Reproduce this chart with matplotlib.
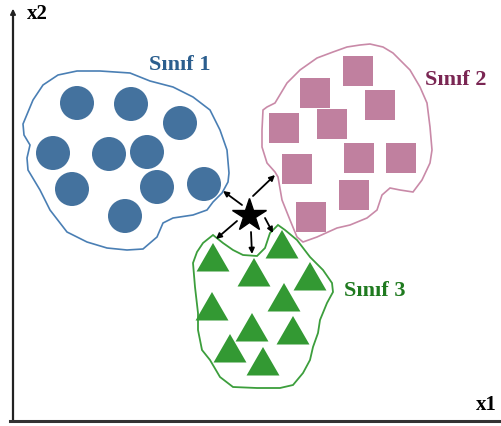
import numpy as np
import matplotlib
matplotlib.use("Agg")
import matplotlib.pyplot as pl
from matplotlib.patches import Circle, Rectangle, RegularPolygon, Polygon

# Layout is in picture pixels: x to the right, y downwards
W, H = 502, 426

# class 1 (circles) centres
circle_x = [77, 131, 180, 53, 109, 147, 72, 157, 204, 125]
circle_y = [103, 104, 123, 153, 154, 152, 189, 187, 184, 216]

# class 2 (squares) centres
square_x = [358, 315, 380, 284, 332, 359, 401, 297, 354, 311]
square_y = [71, 93, 105, 128, 124, 158, 158, 169, 195, 217]

# class 3 (triangles) centres
tri_x = [213, 282, 254, 310, 212, 284, 252, 293, 230, 263]
tri_y = [259, 246, 274, 278, 308, 299, 329, 332, 350, 363]

# query point and the neighbours its arrows point at
star = (249, 215)
arrow_start = [(242, 205), (253, 196), (237, 221), (251, 232), (265, 218)]
arrow_end = [(223, 191), (275, 175), (216, 239), (252, 254), (273, 233)]

# hand traced class boundaries
blob1 = [(58, 75), (77, 71), (100, 71), (130, 73), (150, 81), (173, 87), (193, 97),
         (210, 110), (220, 130), (227, 150), (229, 173), (228, 182), (222, 193),
         (213, 202), (207, 210), (193, 215), (173, 218), (163, 223), (157, 237),
         (143, 249), (127, 250), (107, 248), (87, 242), (67, 232), (50, 210),
         (40, 190), (28, 170), (27, 158), (30, 145), (24, 135), (23, 124),
         (33, 100), (43, 85)]
blob2 = [(360, 45), (370, 44), (383, 47), (393, 53), (410, 70), (420, 87), (427, 103),
         (430, 127), (432, 150), (430, 163), (422, 180), (413, 192), (400, 190),
         (390, 188), (382, 195), (377, 210), (367, 218), (350, 225), (337, 228),
         (317, 237), (303, 242), (297, 237), (290, 220), (282, 200), (278, 177),
         (275, 172), (267, 163), (262, 147), (262, 130), (263, 110), (267, 107),
         (275, 103), (287, 83), (300, 70), (317, 58), (333, 52), (347, 47)]
blob3 = [(213, 235), (223, 243), (233, 250), (243, 255), (257, 256), (265, 248),
         (270, 233), (278, 225), (285, 230), (297, 240), (310, 257), (323, 270),
         (332, 283), (333, 292), (327, 303), (320, 320), (318, 333), (313, 347),
         (310, 360), (303, 373), (293, 385), (280, 388), (257, 388), (233, 387),
         (220, 377), (210, 360), (202, 350), (198, 330), (198, 313), (195, 287),
         (193, 263), (197, 252), (203, 243)]

fig = pl.figure(figsize=(W / 100, H / 100), dpi=100)
ax = fig.add_axes([0, 0, 1, 1])
ax.set_xlim(0, W)
ax.set_ylim(H, 0)
ax.axis("off")

# axes of the sketch
ax.plot([13, 13], [421, 12], color="#222222", lw=1.6)
ax.annotate("", xy=(13, 6), xytext=(13, 16),
            arrowprops=dict(arrowstyle="-|>", color="#222222", lw=1.2, mutation_scale=8))
ax.plot([10, W], [421, 421], color="#333333", lw=2.2)
ax.text(27, 14, "x2", fontsize=15, fontweight="bold", family="Liberation Serif", va="center")
ax.text(476, 405, "x1", fontsize=15, fontweight="bold", family="Liberation Serif", va="center")

# boundaries
ax.add_patch(Polygon(blob1, closed=True, fill=False, ec="#4a7fb4", lw=1.2))
ax.add_patch(Polygon(blob2, closed=True, fill=False, ec="#c98aa8", lw=1.2))
ax.add_patch(Polygon(blob3, closed=True, fill=False, ec="#3c9e3c", lw=1.3))

for x, y in zip(circle_x, circle_y):
    ax.add_patch(Circle((x, y), 17, color="#44729e", lw=0))
for x, y in zip(square_x, square_y):
    ax.add_patch(Rectangle((x - 15, y - 15), 30, 30, color="#c0809f", lw=0))
for x, y in zip(tri_x, tri_y):
    # orientation pi so the apex points up on the flipped y axis
    ax.add_patch(RegularPolygon((x, y + 3), 3, radius=19, orientation=np.pi, color="#339933", lw=0))

for s, e in zip(arrow_start, arrow_end):
    ax.annotate("", xy=e, xytext=s,
                arrowprops=dict(arrowstyle="-|>", color="black", lw=1.3, mutation_scale=8,
                                shrinkA=0, shrinkB=0))
ax.plot(star[0], star[1], marker="*", ms=25, color="black")

ax.text(180, 65, "Sınıf 1", fontsize=16, fontweight="bold", family="Liberation Serif",
        color="#2b5e8e", ha="center", va="center")
ax.text(456, 80, "Sınıf 2", fontsize=16, fontweight="bold", family="Liberation Serif",
        color="#7a2653", ha="center", va="center")
ax.text(375, 291, "Sınıf 3", fontsize=16, fontweight="bold", family="Liberation Serif",
        color="#1f7a1f", ha="center", va="center")

pl.savefig("out.png", dpi=100)
